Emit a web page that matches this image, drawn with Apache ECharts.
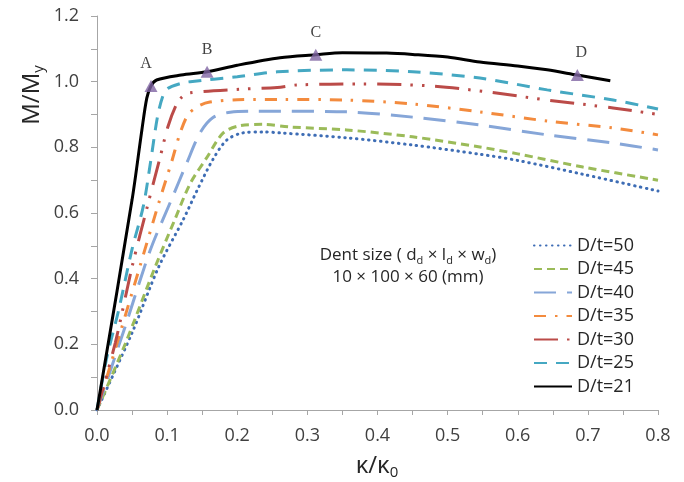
<!DOCTYPE html>
<html><head><meta charset="utf-8">
<script src="https://cdn.jsdelivr.net/npm/echarts@6/dist/echarts.min.js"></script>
<style>html,body{margin:0;padding:0;background:#fff}#c{width:684px;height:482px}</style>
</head><body><div id="c"></div>
<script>
const seriesNames = ['D/t=50','D/t=45','D/t=40','D/t=35','D/t=30','D/t=25','D/t=21'];
const dt50 = [[0,0],[0.05,0.235],[0.088,0.436],[0.123,0.58],[0.143,0.67],[0.165,0.762],[0.185,0.822],[0.208,0.844],[0.237,0.847],[0.261,0.844],[0.356,0.829],[0.45,0.807],[0.546,0.779],[0.6,0.76],[0.693,0.718],[0.8,0.667]];
const dt45 = [[0,0],[0.04,0.2],[0.083,0.436],[0.111,0.58],[0.133,0.69],[0.157,0.77],[0.18,0.844],[0.204,0.866],[0.237,0.87],[0.275,0.862],[0.356,0.853],[0.45,0.832],[0.546,0.801],[0.6,0.78],[0.693,0.74],[0.8,0.70]];
const dt40 = [[0,0],[0.04,0.253],[0.076,0.487],[0.106,0.64],[0.128,0.752],[0.147,0.844],[0.165,0.89],[0.19,0.907],[0.228,0.91],[0.261,0.91],[0.356,0.908],[0.45,0.892],[0.546,0.868],[0.642,0.838],[0.736,0.813],[0.8,0.792]];
const dt35 = [[0,0],[0.033,0.235],[0.061,0.436],[0.088,0.63],[0.107,0.76],[0.118,0.84],[0.13,0.9],[0.145,0.926],[0.161,0.938],[0.2,0.945],[0.265,0.946],[0.356,0.944],[0.45,0.932],[0.546,0.908],[0.642,0.88],[0.736,0.859],[0.8,0.838]];
const dt30 = [[0,0],[0.026,0.204],[0.05,0.436],[0.073,0.63],[0.09,0.77],[0.101,0.862],[0.112,0.925],[0.121,0.953],[0.133,0.966],[0.204,0.977],[0.257,0.982],[0.285,0.99],[0.38,0.993],[0.475,0.987],[0.556,0.969],[0.642,0.944],[0.736,0.92],[0.8,0.9]];
const dt25 = [[0,0],[0.014,0.16],[0.031,0.305],[0.05,0.49],[0.066,0.62],[0.076,0.75],[0.086,0.89],[0.093,0.95],[0.1,0.978],[0.12,0.995],[0.133,1.0],[0.2,1.015],[0.257,1.03],[0.356,1.036],[0.45,1.03],[0.546,1.011],[0.642,0.975],[0.736,0.944],[0.8,0.917]];
const dt21 = [[0,0],[0.05,0.64],[0.064,0.853],[0.071,0.95],[0.077,0.987],[0.085,1.005],[0.12,1.02],[0.157,1.03],[0.2,1.05],[0.261,1.073],[0.312,1.082],[0.35,1.088],[0.413,1.087],[0.45,1.083],[0.5,1.075],[0.546,1.06],[0.6,1.048],[0.642,1.036],[0.685,1.02],[0.732,1.003]];
const markNames = ['A','B','C','D'];
const markX = [0.077,0.157,0.312,0.685];
const markY = [0.987,1.03,1.082,1.02];

const allData = [dt50, dt45, dt40, dt35, dt30, dt25, dt21];
const colors = ['#3e6db5','#9bbb59','#86a6d8','#f38b3e','#bb4b48','#45a8c2','#000000'];
const dashes = [[0.5,5.5],[8,5],[22,11],[12,9,2.5,9],[24,9,2.5,9,2.5,11],[13,9],'solid'];
const caps = ['round','butt','butt','butt','butt','butt','butt'];

const FONT = "'Open Sans', 'Noto Sans', sans-serif";
const chart = echarts.init(document.getElementById('c'), null, {renderer:'canvas'});

const series = allData.map((d, i) => ({
  type: 'line', name: seriesNames[i], data: d, symbol: 'none', showSymbol: false,
  smooth: 0.3, z: 2 + i,
  lineStyle: {color: colors[i], width: 3, type: dashes[i], cap: caps[i]},
  itemStyle: {color: colors[i]}
}));
series.push({
  type: 'scatter', name: 'marks', z: 20,
  data: markX.map((x, i) => ({value: [x, markY[i]], name: markNames[i],
    label: {offset: i === 0 ? [-5, 0] : (i === 3 ? [4, 0] : [0, 0])}})),
  symbol: 'triangle', symbolSize: [13, 12],
  itemStyle: {color: '#8064a2'},
  label: {show: true, position: 'top', distance: 8, formatter: p => p.name,
    fontFamily: "'Liberation Serif', 'DejaVu Serif', serif", fontSize: 16, color: '#111'}
});

chart.setOption({
  animation: false,
  backgroundColor: '#fff',
  grid: {left: 97, right: 26, top: 16, bottom: 72, containLabel: false},
  xAxis: {
    type: 'value', min: 0, max: 0.8, interval: 0.05,
    axisLine: {show: true, lineStyle: {color: '#a6a6a6', width: 1}},
    axisTick: {show: true, length: 5, lineStyle: {color: '#a6a6a6'}},
    splitLine: {show: false},
    axisLabel: {margin: 17, fontFamily: FONT, fontSize: 18, color: '#404040',
      formatter: v => (Math.round(v * 100) % 10 === 0 ? v.toFixed(1) : '')}
  },
  yAxis: {
    type: 'value', min: 0, max: 1.2, interval: 0.1,
    axisLine: {show: true, lineStyle: {color: '#a6a6a6', width: 1}},
    axisTick: {show: true, length: 6, lineStyle: {color: '#a6a6a6'}},
    splitLine: {show: false},
    axisLabel: {margin: 18, fontFamily: FONT, fontSize: 18, color: '#404040',
      formatter: v => (Math.round(v * 10) % 2 === 0 ? v.toFixed(1) : '')}
  },
  legend: {
    data: seriesNames, orient: 'vertical', left: 533, top: 236.5, padding: 0,
    itemWidth: 38, itemHeight: 18, itemGap: 5.5, itemTextGap: 5,
    itemStyle: {opacity: 0},
    textStyle: {fontFamily: FONT, fontSize: 18, color: '#262626', lineHeight: 18}
  },
  graphic: [
    {type: 'text', x: 408, y: 255, style: {
      text: 'Dent size ( d{s|d} × l{s|d} × w{s|d})', fontFamily: FONT, fontSize: 17, fill: '#262626',
      align: 'center', verticalAlign: 'middle', lineHeight: 22,
      rich: {s: {fontSize: 11, lineHeight: 11, verticalAlign: 'bottom', fontFamily: FONT, fill: '#262626'}}}},
    {type: 'text', x: 408, y: 277, style: {
      text: '10 × 100 × 60 (mm)', fontFamily: FONT, fontSize: 17, fill: '#262626',
      align: 'center', verticalAlign: 'middle'}},
    {type: 'text', x: 377, y: 466, style: {
      text: 'κ/κ{s|0}', fontFamily: FONT, fontSize: 24, fill: '#262626',
      align: 'center', verticalAlign: 'middle', lineHeight: 28,
      rich: {s: {fontSize: 15, lineHeight: 15, verticalAlign: 'bottom', fontFamily: FONT, fill: '#262626'}}}},
    {type: 'text', x: 32, y: 95, rotation: Math.PI / 2, style: {
      text: 'M/M{s|y}', fontFamily: FONT, fontSize: 24, fill: '#262626',
      align: 'center', verticalAlign: 'middle', lineHeight: 28,
      rich: {s: {fontSize: 15, lineHeight: 15, verticalAlign: 'bottom', fontFamily: FONT, fill: '#262626'}}}}
  ],
  series: series
});
</script>
</body></html>
